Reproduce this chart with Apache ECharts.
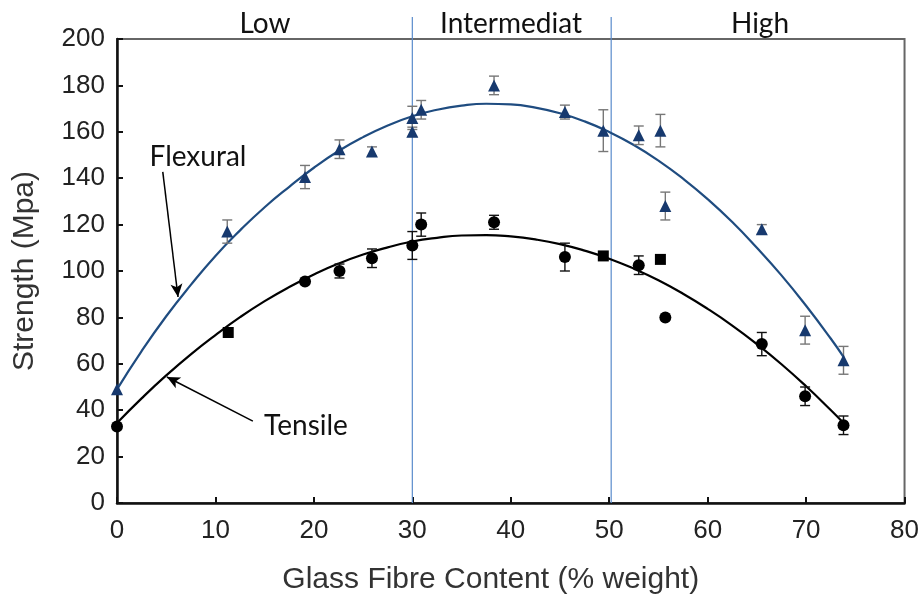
<!DOCTYPE html>
<html>
<head>
<meta charset="utf-8">
<script src="https://cdn.jsdelivr.net/npm/echarts@6/dist/echarts.min.js"></script>
<style>html,body{margin:0;padding:0;background:#fff}#c{width:922px;height:602px}</style>
</head>
<body>
<div id="c"></div>
<script>
// ---- data ----
var xTicks = [0, 10, 20, 30, 40, 50, 60, 70, 80];
var yTicks = [0, 20, 40, 60, 80, 100, 120, 140, 160, 180, 200];

var flexX   = [0, 11.2, 19.1, 22.6, 25.9, 30.0, 30.0, 30.9, 38.3, 45.5, 49.4, 53.0, 55.2, 55.7, 65.5, 69.9, 73.8];
var flexY   = [49, 117, 140.5, 152.5, 151.5, 160, 166, 169.5, 180, 168.5, 160.5, 158.5, 160.5, 128, 118, 74.5, 61.5];
var flexErr = [0, 5, 5, 4, 2, 2, 5, 4, 4, 3, 9, 4, 7, 6, 2, 6, 6];

var tenX   = [0, 11.3, 19.1, 22.6, 25.9, 30.0, 30.9, 38.3, 45.5, 49.4, 53.0, 55.2, 55.7, 65.5, 69.9, 73.8];
var tenY   = [33, 73.5, 95.5, 100, 105.5, 111, 120, 121, 106, 106.5, 102.5, 105, 80, 68.5, 46, 33.5];
var tenErr = [0, 0, 1, 3, 4, 6, 5, 3, 6, 0, 4, 0, 0, 5, 4, 4];

// fitted curves
var fitX    = [0, 2.5, 5, 7.5, 10, 12.5, 15, 17.5, 20, 22.5, 25, 27.5, 30, 32.5, 35, 37.5, 40, 42.5, 45, 47.5, 50, 52.5, 55, 57.5, 60, 62.5, 65, 67.5, 70, 72.5, 73.8];
var flexFit = [49, 65.5, 80.5, 94, 106.5, 117.5, 127.5, 136.3, 144.5, 151.7, 157.7, 162.7, 166.7, 169.5, 171.3, 172.1, 171.8, 170.4, 168, 164.5, 159.9, 154.3, 147.6, 139.8, 131, 121.1, 110, 98.1, 85, 70.9, 63];
var tenFit  = [34.5, 45.1, 55, 64.1, 72.4, 80.1, 87, 93.1, 98.5, 103.2, 107.1, 110.2, 112.7, 114.3, 115.3, 115.5, 114.9, 113.6, 111.6, 108.8, 105.3, 101, 96, 90.2, 83.7, 76.5, 68.5, 59.8, 50.3, 40.1, 34.5];

var regionBounds = [30, 50.2];
var regionNames = ['Low', 'Intermediat', 'High'];
var seriesNames = ['Flexural', 'Tensile'];

// ---- build ----
var FLEX_C = '#17396e', FLEX_LINE = '#1f4c80', TEN_C = '#000000';
var squareAt = [11.3, 49.4, 55.2];

function zip(xs, ys) { return xs.map(function (x, i) { return [x, ys[i]]; }); }
function zip3(xs, ys, es) { return xs.map(function (x, i) { return [x, ys[i], es[i]]; }); }

function errRender(color) {
  return function (params, api) {
    var x = api.value(0), y = api.value(1), e = api.value(2);
    if (!e) return null;
    var lo = api.coord([x, y - e]), hi = api.coord([x, y + e]);
    var w = 5;
    var st = { stroke: color, lineWidth: 1.4 };
    return { type: 'group', children: [
      { type: 'line', shape: { x1: lo[0], y1: lo[1], x2: hi[0], y2: hi[1] }, style: st },
      { type: 'line', shape: { x1: lo[0] - w, y1: lo[1], x2: lo[0] + w, y2: lo[1] }, style: st },
      { type: 'line', shape: { x1: hi[0] - w, y1: hi[1], x2: hi[0] + w, y2: hi[1] }, style: st }
    ]};
  };
}

var chart = echarts.init(document.getElementById('c'));
var option = {
  animation: false,
  backgroundColor: '#fff',
  grid: { left: 117, right: 16, top: 39, bottom: 99, show: true, borderColor: '#666', borderWidth: 2 },
  xAxis: {
    type: 'value', min: xTicks[0], max: xTicks[xTicks.length - 1], interval: 10,
    name: 'Glass Fibre Content (% weight)', nameLocation: 'middle', nameGap: 62,
    nameTextStyle: { fontFamily: 'Liberation Sans', fontSize: 30, color: '#333', padding: [0, 40, 0, 0] },
    axisLine: { lineStyle: { color: '#111', width: 2.5 } },
    axisTick: { inside: true, length: 6, lineStyle: { color: '#111', width: 2 } },
    axisLabel: { fontFamily: 'Liberation Sans', fontSize: 26, color: '#222', margin: 15 },
    splitLine: { show: false }
  },
  yAxis: {
    type: 'value', min: yTicks[0], max: yTicks[yTicks.length - 1], interval: 20,
    name: 'Strength (Mpa)', nameLocation: 'middle', nameGap: 77, nameRotate: 90,
    nameTextStyle: { fontFamily: 'Liberation Sans', fontSize: 30, color: '#333' },
    axisLine: { lineStyle: { color: '#111', width: 2.5 } },
    axisTick: { inside: true, length: 6, lineStyle: { color: '#111', width: 2 } },
    axisLabel: { fontFamily: 'Liberation Sans', fontSize: 26, color: '#222', margin: 12 },
    splitLine: { show: false }
  },
  series: [
    {
      type: 'custom', name: 'regions', clip: false, silent: true, z: 1,
      data: regionBounds.map(function (b) { return [b]; }),
      renderItem: function (params, api) {
        var x = api.value(0);
        var p0 = api.coord([x, 0]), p1 = api.coord([x, 209.5]);
        return { type: 'line', shape: { x1: p0[0], y1: p0[1], x2: p1[0], y2: p1[1] },
                 style: { stroke: '#5a8ccc', lineWidth: 1.2 } };
      }
    },
    {
      type: 'line', name: seriesNames[0] + ' fit', data: zip(fitX, flexFit), smooth: true,
      showSymbol: false, lineStyle: { color: FLEX_LINE, width: 2.2 }, z: 2,
      markLine: {
        silent: true, symbol: ['none', 'arrow'], symbolSize: [9, 13], label: { show: false },
        lineStyle: { color: '#000', width: 1.5, type: 'solid' },
        data: [[{ coord: [4.65, 142.7] }, { coord: [6.2, 88.8] }]]
      }
    },
    {
      type: 'line', name: seriesNames[1] + ' fit', data: zip(fitX, tenFit), smooth: true,
      showSymbol: false, lineStyle: { color: '#000', width: 2.2 }, z: 2,
      markLine: {
        silent: true, symbol: ['none', 'arrow'], symbolSize: [9, 13], label: { show: false },
        lineStyle: { color: '#000', width: 1.5, type: 'solid' },
        data: [[{ coord: [13.8, 35.3] }, { coord: [5.07, 54.3] }]]
      }
    },
    { type: 'custom', name: 'flexErr', data: zip3(flexX, flexY, flexErr), renderItem: errRender('#777'), z: 3 },
    { type: 'custom', name: 'tenErr', data: zip3(tenX, tenY, tenErr), renderItem: errRender('#111'), z: 3 },
    {
      type: 'scatter', name: seriesNames[0], data: zip(flexX, flexY),
      symbol: 'triangle', symbolSize: 12, itemStyle: { color: FLEX_C, opacity: 1 }, z: 4
    },
    {
      type: 'scatter', name: seriesNames[1],
      data: zip(tenX, tenY).map(function (d) {
        var sq = squareAt.indexOf(d[0]) >= 0;
        return { value: d, symbol: sq ? 'rect' : 'circle', symbolSize: sq ? 11 : 12 };
      }),
      itemStyle: { color: TEN_C, opacity: 1 }, z: 4
    }
  ]
};
var labelFont = { fontFamily: 'Lato', fontSize: 28, fill: '#111' };
function gtext(txt, cx, cy) {
  return { type: 'text', x: cx, y: cy, style: Object.assign({ text: txt, textAlign: 'center', textVerticalAlign: 'middle' }, labelFont) };
}
option.graphic = [
  gtext(regionNames[0], 265, 24),
  gtext(regionNames[1], 511, 24),
  gtext(regionNames[2], 760, 24),
  gtext(seriesNames[0], 198, 157),
  gtext(seriesNames[1], 306, 426)
];
chart.setOption(option);
</script>
</body>
</html>
